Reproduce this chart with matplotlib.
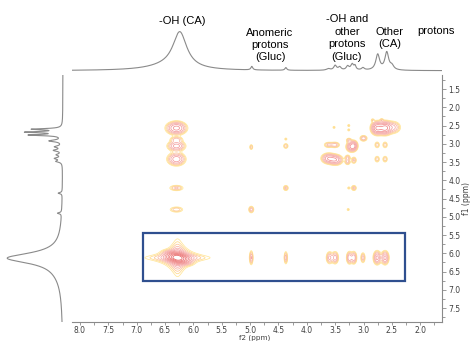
import numpy as np
import matplotlib
matplotlib.use("Agg")
import matplotlib.pyplot as plt
from matplotlib.patches import Rectangle
from matplotlib.ticker import MultipleLocator

# 1D proton trace along f2 (top): position, height, half width (ppm)
top_pos = [6.24, 6.45, 4.97, 4.37, 3.62, 3.50, 3.42, 3.28, 3.20, 3.15, 3.01, 2.75, 2.59, 2.50]
top_hgt = [0.92, 0.10, 0.09, 0.07, 0.04, 0.12, 0.08, 0.10, 0.15, 0.10, 0.06, 0.40, 0.45, 0.10]
top_wid = [0.15, 0.45, 0.02, 0.02, 0.04, 0.03, 0.03, 0.03, 0.03, 0.02, 0.03, 0.04, 0.04, 0.04]

# 1D proton trace along f1 (left)
left_pos = [6.13, 6.40, 4.90, 4.35, 3.48, 3.40, 3.30, 3.18, 3.08, 2.92, 2.76, 2.68, 2.60]
left_hgt = [0.90, 0.08, 0.07, 0.07, 0.10, 0.12, 0.09, 0.14, 0.12, 0.22, 0.55, 0.60, 0.50]
left_wid = [0.17, 0.50, 0.02, 0.02, 0.03, 0.03, 0.03, 0.03, 0.03, 0.03, 0.02, 0.02, 0.02]

# 2D cross peaks: f2, f1, intensity, width f2, width f1
pk_f2 = [4.98, 4.37, 3.60, 3.50, 3.25, 3.17, 3.01, 2.76, 2.62,
         6.30, 6.30, 6.30, 6.30, 6.30, 6.30,
         4.98, 4.98, 4.37, 4.37, 4.37,
         3.52, 3.62, 3.50, 3.62, 3.49,
         3.26, 3.26, 3.26, 3.22, 3.28, 3.28, 3.26, 3.27,
         3.17, 3.17, 3.17, 3.00,
         2.76, 2.76, 2.76, 2.62, 2.62, 2.62, 2.48, 2.84, 2.68]
pk_f1 = [6.12, 6.12, 6.12, 6.12, 6.12, 6.12, 6.12, 6.12, 6.12,
         2.57, 2.88, 3.06, 3.42, 4.21, 4.80,
         3.09, 4.80, 2.87, 3.06, 4.21,
         2.55, 3.03, 3.03, 3.40, 3.44,
         2.50, 2.62, 2.90, 3.08, 3.38, 3.50, 4.21, 4.80,
         3.05, 3.45, 4.21, 2.85,
         2.57, 3.03, 3.42, 2.57, 3.03, 3.42, 2.55, 2.35, 2.35]
pk_amp = [0.09, 0.08, 0.10, 0.11, 0.12, 0.12, 0.08, 0.14, 0.14,
          0.20, 0.07, 0.15, 0.16, 0.07, 0.06,
          0.06, 0.08, 0.04, 0.06, 0.07,
          0.04, 0.07, 0.08, 0.16, 0.16,
          0.04, 0.04, 0.06, 0.15, 0.07, 0.07, 0.04, 0.04,
          0.13, 0.07, 0.07, 0.09,
          0.25, 0.06, 0.06, 0.25, 0.06, 0.06, 0.10, 0.04, 0.04]
pk_w2 = [0.02, 0.02, 0.035, 0.035, 0.03, 0.03, 0.025, 0.04, 0.04,
         0.10, 0.07, 0.09, 0.09, 0.08, 0.08,
         0.02, 0.03, 0.02, 0.03, 0.03,
         0.02, 0.05, 0.05, 0.07, 0.07,
         0.02, 0.02, 0.03, 0.05, 0.03, 0.03, 0.02, 0.02,
         0.04, 0.03, 0.03, 0.04,
         0.06, 0.03, 0.03, 0.06, 0.03, 0.03, 0.08, 0.02, 0.02]
pk_w1 = [0.12, 0.11, 0.10, 0.10, 0.10, 0.10, 0.09, 0.11, 0.11,
         0.10, 0.05, 0.08, 0.10, 0.05, 0.05,
         0.05, 0.06, 0.03, 0.05, 0.05,
         0.03, 0.05, 0.05, 0.08, 0.08,
         0.03, 0.03, 0.04, 0.08, 0.05, 0.05, 0.03, 0.03,
         0.08, 0.06, 0.05, 0.05,
         0.10, 0.06, 0.06, 0.10, 0.06, 0.06, 0.10, 0.03, 0.03]

# big -OH peak of CA: lorentzian cross plus a tilted core
oh_f2, oh_f1, oh_amp, oh_core = 6.28, 6.12, 0.85, 0.5

labels = ["-OH (CA)", "Anomeric\nprotons\n(Gluc)", "-OH and\nother\nprotons\n(Gluc)", "Other\n(CA)", "protons"]
label_x = [182, 270, 347, 390, 436]
label_y = [21, 45, 38, 38, 31]

W, H = 472, 341
fig = plt.figure(figsize=(W / 100, H / 100), dpi=100)

def px_axes(x0, y0, x1, y1):
    return fig.add_axes([x0 / W, 1 - y1 / H, (x1 - x0) / W, (y1 - y0) / H])

F2_LIM = (8.141, 1.616)
F1_LIM = (7.88, 1.116)
grey = "#8a8a8a"

# 2D spectrum
ax = px_axes(72, 75, 442, 322)
f2 = np.linspace(8.2, 1.5, 900)
f1 = np.linspace(1.0, 8.0, 700)
X, Y = np.meshgrid(f2, f1)
Z = np.zeros_like(X)
for x0, y0, a, wx, wy in zip(pk_f2, pk_f1, pk_amp, pk_w2, pk_w1):
    Z += a * np.exp(-0.5 * (((X - x0) / wx) ** 2 + ((Y - y0) / wy) ** 2))
Z += oh_amp / ((1 + ((X - oh_f2) / 0.10) ** 2) * (1 + ((Y - oh_f1) / 0.09) ** 2))
u = (X - oh_f2) - 0.6 * (Y - oh_f1)
v = (Y - oh_f1) + 0.6 * (X - oh_f2)
Z += oh_core * np.exp(-0.5 * ((u / 0.14) ** 2 + (v / 0.07) ** 2))

levels = 0.025 * 1.38 ** np.arange(12)
cols = ["#FFE699", "#FFDA8C", "#FCC898", "#F8B6A6", "#F5A8A8", "#F39C9C",
        "#F19090", "#EF8686", "#ED7C7C", "#EB7272", "#E96A6A", "#E76464"]
ax.contour(X, Y, Z, levels=levels, colors=cols, linewidths=0.55)

ax.set_xlim(*F2_LIM)
ax.set_ylim(*F1_LIM)
for s in ["left", "top"]:
    ax.spines[s].set_visible(False)
for s in ["bottom", "right"]:
    ax.spines[s].set_color(grey)
    ax.spines[s].set_linewidth(0.8)
ax.yaxis.tick_right()
ax.yaxis.set_label_position("right")
ax.xaxis.set_minor_locator(MultipleLocator(0.25))
ax.yaxis.set_minor_locator(MultipleLocator(0.25))
ax.tick_params(which="both", colors=grey, labelcolor="#404040", labelsize=5.5, width=0.6)
ax.tick_params(which="major", length=3, pad=1.5)
ax.tick_params(axis="x", which="major", length=2.5, pad=0.5)
ax.tick_params(which="minor", length=2)
ax.set_xticks(np.arange(2.0, 8.01, 0.5))
ax.set_yticks(np.arange(1.5, 7.51, 0.5))
ax.xaxis.set_major_formatter(plt.FormatStrFormatter("%.1f"))
ax.yaxis.set_major_formatter(plt.FormatStrFormatter("%.1f"))
ax.set_ylabel("f1 (ppm)", fontsize=5.5, color="#404040", labelpad=1)
fig.text(255 / W, 1 - 337.5 / H, "f2 (ppm)", ha="center", va="center",
         fontsize=5.2, color="#404040")

# box around the f1 ~ 6.1 ppm row
ax.add_patch(Rectangle((6.89, 5.45), 2.27 - 6.89, 6.76 - 5.45, fill=False,
                       edgecolor="#2F4F8F", linewidth=1.6, zorder=5))

# top projection
axt = px_axes(72, 22, 442, 72)
xs = np.linspace(F2_LIM[0], F2_LIM[1], 1500)
ys = np.zeros_like(xs)
for p, h, w in zip(top_pos, top_hgt, top_wid):
    ys += h / (1 + ((xs - p) / w) ** 2)
axt.plot(xs, ys, color=grey, lw=0.8)
axt.set_xlim(*F2_LIM)
axt.set_ylim(-0.0333, 1.249)
axt.axis("off")

# left projection
axl = px_axes(0, 75, 66, 322)
ys2 = np.linspace(1.116, 7.88, 1500)
xs2 = np.zeros_like(ys2)
for p, h, w in zip(left_pos, left_hgt, left_wid):
    xs2 += h / (1 + ((ys2 - p) / w) ** 2)
axl.plot(xs2, ys2, color=grey, lw=0.8)
axl.set_xlim(1.086, -0.052)
axl.set_ylim(*F1_LIM)
axl.axis("off")

for t, x, y in zip(labels, label_x, label_y):
    fig.text(x / W, 1 - y / H, t, ha="center", va="center", fontsize=8,
             family="Liberation Sans", linespacing=1.3)

fig.savefig("out.png", dpi=100)
